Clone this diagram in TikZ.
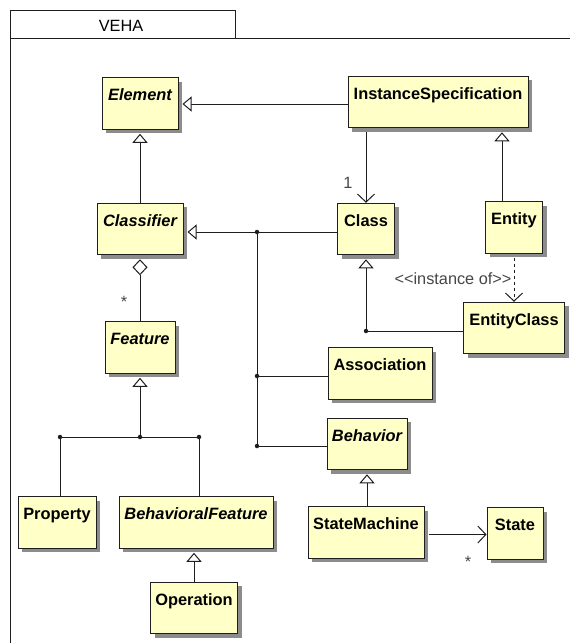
\documentclass[tikz,border=0pt]{standalone}
\usepackage{fontspec}
\setmainfont{Liberation Sans}
\newfontfamily\plainfont{Liberation Sans}
\usetikzlibrary{arrows.meta,shadows}
\definecolor{umlfill}{RGB}{255,255,200}
\definecolor{umlline}{RGB}{30,30,30}
\definecolor{umlnote}{RGB}{70,70,70}
\begin{document}
\begin{tikzpicture}[x=1pt,y=-1pt,
  font=\fontsize{16.3}{19}\selectfont,
  cls/.style={draw=umlline, line width=1pt, fill=umlfill,
    inner xsep=0pt, inner ysep=0pt, text height=23pt, text depth=28.5pt,
    minimum width=#1, font=\fontsize{16.4}{19}\selectfont\bfseries,
    general shadow={fill=black!45, shadow xshift=4pt, shadow yshift=-4pt}},
  abscls/.style={cls=#1, font=\fontsize{16.4}{19}\selectfont\bfseries\itshape},
  conn/.style={draw=umlline, line width=1pt},
  gen/.style={conn, -{Triangle[open, length=9pt, width=15pt, fill=white]}},
  nav/.style={conn, -{Straight Barb[length=8pt, width=17pt]}},
  agg/.style={conn, {Diamond[open, length=16pt, width=15pt, fill=white]}-},
  junction/.style={circle, fill=umlline, inner sep=0pt, minimum size=4.5pt},
  note/.style={text=umlnote, inner sep=0pt, font=\plainfont\fontsize{16.3}{19}\selectfont}
]
\useasboundingbox (0,0) rectangle (570,643);
\fill[white] (0,0) rectangle (570,643);

% package frame with its name tab
\draw[umlline, line width=1pt] (10,38) -- (10,10) -- (235,10) -- (235,38);
\draw[umlline, line width=1pt] (10,643) -- (10,38) -- (570,38);
\node (pkg) at (121,26) {VEHA};

% classes
\node[abscls=76pt] (Element) at (140,103.5) {Element};
\node[cls=180pt] (IS) at (438,102) {InstanceSpecification};
\node[cls=57pt] (Class) at (366,229) {Class};
\node[cls=57pt] (Entity) at (514,227.5) {Entity};
\node[cls=101pt] (EntityClass) at (514,328) {EntityClass};
\node[abscls=86pt] (Classifier) at (140,229) {Classifier};
\node[cls=104pt] (Association) at (380,373.5) {Association};
\node[abscls=80pt] (Behavior) at (367,444) {Behavior};
\node[cls=116pt] (StateMachine) at (366,532.5) {StateMachine};
\node[cls=56pt] (State) at (515,533.5) {State};
\node[abscls=70pt] (Feature) at (140,347.5) {Feature};
\node[cls=78pt] (Property) at (57,522.5) {Property};
\node[abscls=154pt] (BF) at (196,522.5) {BehavioralFeature};
\node[cls=87pt] (Operation) at (194,608) {Operation};

% junction points
\node[junction] (jA) at (257,232) {};
\node[junction] (jB) at (257,376) {};
\node[junction] (jC) at (257,446) {};
\node[junction] (jE) at (366,331) {};
\node[junction] (jF) at (140,437) {};
\node[junction] (jP) at (60,437) {};
\node[junction] (jQ) at (199,437) {};

% InstanceSpecification
\draw[gen, shorten >=4pt] ([yshift=-2pt]IS.west) -- ([yshift=-2pt]IS.west -| Element.east);
\draw[nav, shorten <=4pt] (IS.south -| Class.north) -- (Class.north);
\node[note] (one) at (348,183) {1};
\draw[gen, shorten >=4pt] ([xshift=-12pt]Entity.north) -- ([xshift=-12pt]Entity.north |- IS.south);
\draw[nav, dashed, shorten <=4pt] (Entity.south) -- (EntityClass.north);
\node[note] (inst) at (453,279) {<<instance of>>};

% Class hierarchy
\draw[gen, shorten >=4pt] (Classifier.north) -- (Element.south);
\draw[conn] (EntityClass.west |- jE) -- (jE.center);
\draw[gen, shorten >=4pt] (jE.center) -- (Class.south);
\draw[conn] (Class.west |- jA) -- (jA.center);
\draw[gen, shorten >=4pt] (jA.center) -- (jA -| Classifier.east);
\draw[conn] (jA.center) -- (jC.center);
\draw[conn] (jB.center) -- (jB -| Association.west);
\draw[conn] (jC.center) -- (jC -| Behavior.west);
\draw[gen, shorten >=4pt] (Behavior.south |- StateMachine.north) -- (Behavior.south);
\draw[nav, shorten <=4pt] ([yshift=-2pt]StateMachine.east) -- ([yshift=-2pt]StateMachine.east -| State.west);
\node[note] (many2) at (468,562) {*};

% Feature hierarchy
\draw[agg, shorten <=4pt] (Classifier.south) -- (Feature.north);
\node[note] (many1) at (124,302) {*};
\draw[gen, shorten >=4pt] (jF.center) -- (Feature.south);
\draw[conn] (jP |- Property.north) -- (jP.center) -- (jQ.center) -- (jQ |- BF.north);
\draw[gen, shorten >=4pt] (Operation.north) -- (Operation.north |- BF.south);
\end{tikzpicture}
\end{document}
